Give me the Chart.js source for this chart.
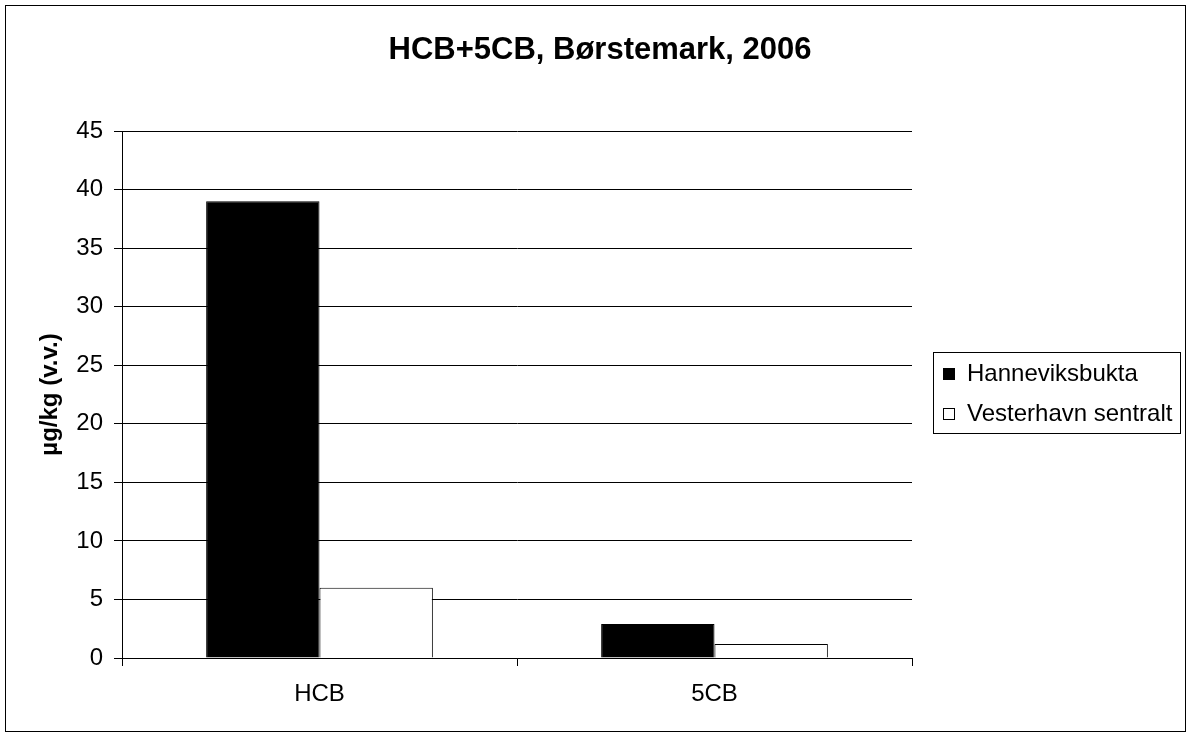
<!DOCTYPE html>
<html>
<head>
<meta charset="utf-8">
<title>HCB+5CB, Børstemark, 2006</title>
<script src="https://cdn.jsdelivr.net/npm/chart.js@4/dist/chart.umd.min.js"></script>
<style>
  html, body { margin: 0; padding: 0; background: #fff; }
  #wrap { width: 1190px; height: 736px; position: relative; }
</style>
</head>
<body>
<div id="wrap"><canvas id="chart" width="1190" height="736"></canvas></div>
<script>
var chartTitle = 'HCB+5CB, Børstemark, 2006';
var yTitle = 'µg/kg (v.v.)';
var categories = ['HCB', '5CB'];
var seriesNames = ['Hanneviksbukta', 'Vesterhavn sentralt'];
var hanneviksbukta = [39, 2.9];
var vesterhavn = [6, 1.2];
var yMin = 0, yMax = 45, yStep = 5;

Chart.defaults.font.family = '"Liberation Sans", Arial, sans-serif';
Chart.defaults.color = '#000';

// border round the whole picture, title and the boxed legend on the right
var frame = {
    id: 'frame',
    afterDraw: function (chart) {
        var ctx = chart.ctx;
        ctx.save();
        ctx.strokeStyle = '#000';
        ctx.lineWidth = 1;
        ctx.strokeRect(5.5, 5.5, 1180, 726);

        ctx.font = 'bold 31px "Liberation Sans", Arial, sans-serif';
        ctx.fillStyle = '#000';
        ctx.textAlign = 'center';
        ctx.textBaseline = 'alphabetic';
        ctx.fillText(chartTitle, 600, 59);

        // legend
        ctx.strokeRect(933.5, 352.5, 247, 81);
        ctx.font = '24px "Liberation Sans", Arial, sans-serif';
        ctx.textAlign = 'left';
        ctx.textBaseline = 'middle';
        var rows = [374, 414];
        chart.data.datasets.forEach(function (ds, i) {
            ctx.fillStyle = ds.backgroundColor;
            ctx.fillRect(943.5, rows[i] - 5.5, 11, 11);
            ctx.strokeStyle = '#000';
            ctx.strokeRect(943.5, rows[i] - 5.5, 11, 11);
            ctx.fillStyle = '#000';
            ctx.fillText(ds.label, 967, rows[i]);
        });
        ctx.restore();
    }
};

new Chart(document.getElementById('chart'), {
    type: 'bar',
    data: {
        labels: categories,
        datasets: [{
            label: seriesNames[0],
            data: hanneviksbukta,
            backgroundColor: '#000',
            borderColor: '#000',
            borderWidth: 1
        }, {
            label: seriesNames[1],
            data: vesterhavn,
            backgroundColor: '#fff',
            borderColor: '#000',
            borderWidth: 1
        }]
    },
    options: {
        responsive: false,
        animation: false,
        events: [],
        layout: { padding: { top: 131, right: 278, left: 0, bottom: 0 } },
        datasets: { bar: { barPercentage: 1, categoryPercentage: 0.574 } },
        plugins: {
            legend: { display: false },
            title: { display: false },
            tooltip: { enabled: false }
        },
        scales: {
            x: {
                afterFit: function (scale) { scale.height = 78; },
                grid: { offset: true, drawOnChartArea: false, drawTicks: true, tickLength: 8, color: '#000' },
                border: { display: true, color: '#000' },
                ticks: { font: { size: 24 }, padding: 14, color: '#000' }
            },
            y: {
                min: yMin,
                max: yMax,
                afterFit: function (scale) { scale.width = 122; },
                grid: { color: '#000', tickLength: 8 },
                border: { display: true, color: '#000' },
                ticks: { stepSize: yStep, font: { size: 24 }, padding: 11, color: '#000' },
                title: {
                    display: true,
                    text: yTitle,
                    font: { size: 24, weight: 'bold' },
                    padding: { top: 36, bottom: 0 },
                    color: '#000'
                }
            }
        }
    },
    plugins: [frame]
});
</script>
</body>
</html>
